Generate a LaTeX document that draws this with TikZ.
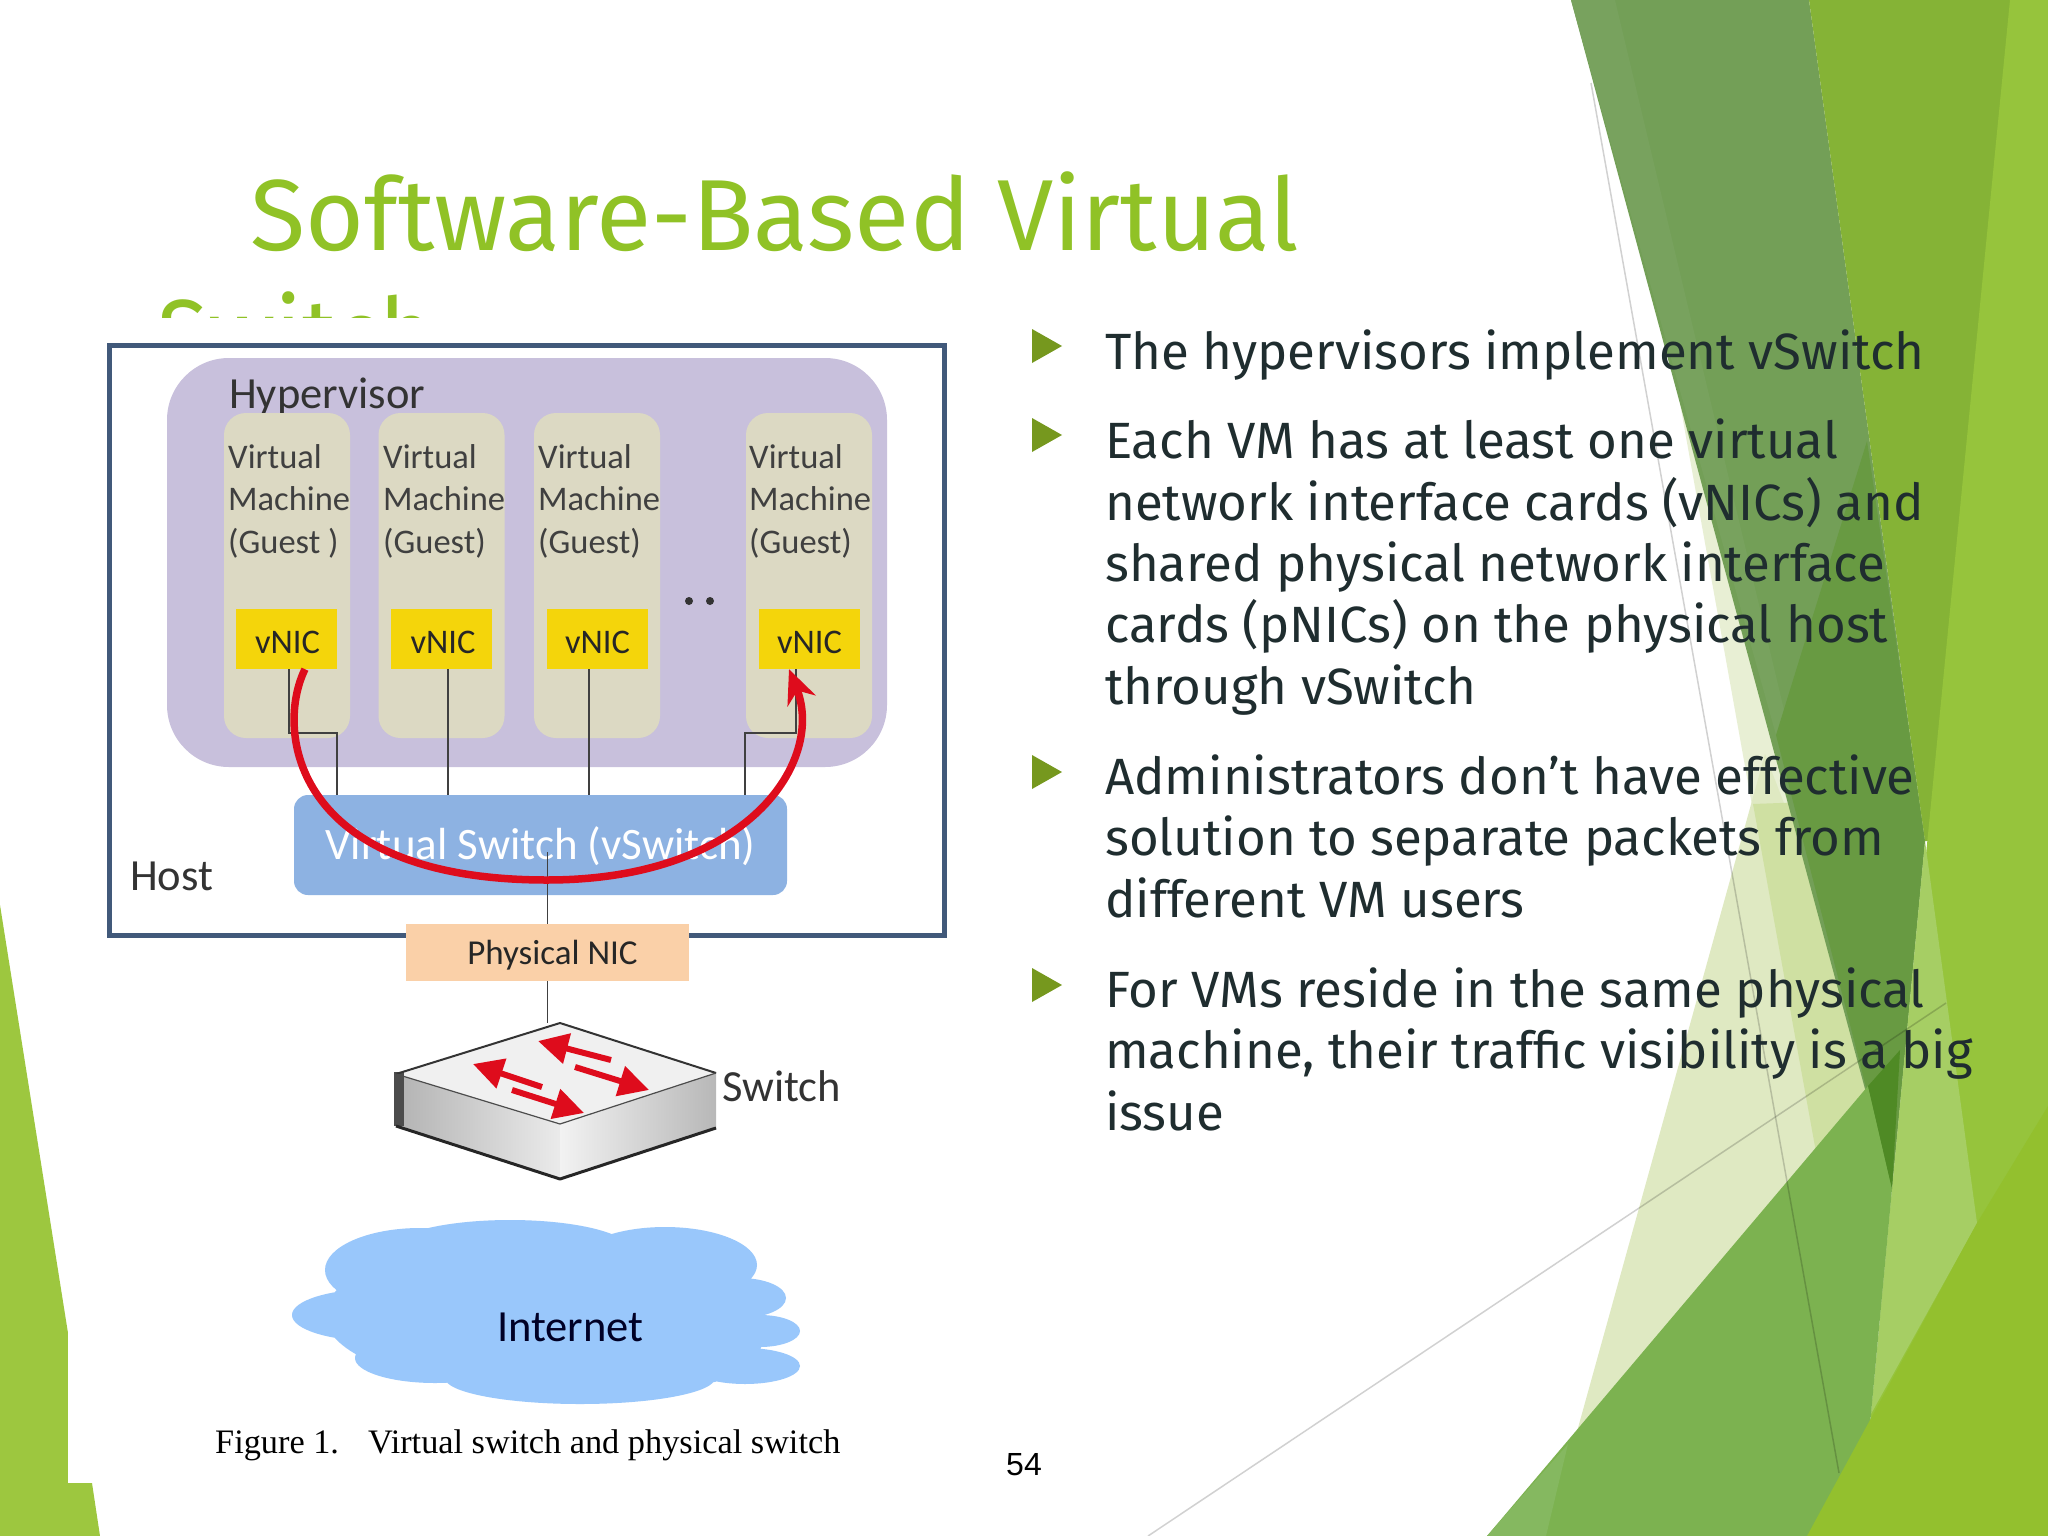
\documentclass[tikz,border=0pt]{standalone}
\usepackage{fontspec}
\setmainfont{Fira Sans}
\newfontfamily\figfont{Carlito}
\newfontfamily\capfont{Liberation Serif}
\newfontfamily\numfont{Liberation Sans}
\usetikzlibrary{arrows.meta}
\definecolor{titlegreen}{HTML}{90C226}
\definecolor{bodyink}{HTML}{1F2D2F}
\definecolor{bulletgreen}{HTML}{76981E}
\definecolor{hostblue}{HTML}{41597A}
\definecolor{hypcol}{HTML}{C8C0DC}
\definecolor{vmcol}{HTML}{DCD9C3}
\definecolor{niccol}{HTML}{F4D50B}
\definecolor{swcol}{HTML}{8DB2E2}
\definecolor{phycol}{HTML}{FAD0A8}
\definecolor{cloudcol}{HTML}{99C7FB}
\definecolor{redcol}{HTML}{DE0C1C}
\definecolor{pale}{HTML}{DFE9C2}
\definecolor{palelight}{HTML}{E8EFD4}
\definecolor{palemid}{HTML}{CFE0A2}
\definecolor{darkgreen}{HTML}{739F57}
\definecolor{darkedge}{HTML}{78A25E}
\definecolor{darklow}{HTML}{689A42}
\definecolor{darktip}{HTML}{4F8A25}
\definecolor{wedgegreen}{HTML}{85B336}
\definecolor{bandgreen}{HTML}{96C43C}
\definecolor{tipgreen}{HTML}{A6CE64}
\definecolor{midgreen}{HTML}{7CB250}
\definecolor{midlight}{HTML}{85B860}
\definecolor{brightgreen}{HTML}{93C02E}
\definecolor{leftgreen}{HTML}{9DC73F}
\tikzset{
 x=1pt,y=-1pt,
 vmbox/.style={draw=none,fill=vmcol,rounded corners=22pt,inner sep=0,minimum width=126pt,minimum height=325pt},
 nicbox/.style={draw=none,fill=niccol,inner sep=0,minimum width=101pt,minimum height=60pt,font=\figfont\fontsize{34.5}{36}\selectfont,text=black!85},
 vmtext/.style={anchor=base west,inner sep=0,align=left,font=\figfont\fontsize{34.5}{42.5}\selectfont,text=black!75},
 figlabel/.style={anchor=base west,inner sep=0,font=\figfont\fontsize{44.5}{48}\selectfont,text=black!80},
 wire/.style={draw=black!75,line width=1.6pt},
 bodytext/.style={anchor=base west,inner sep=0,align=left,text=bodyink,font=\fontsize{51}{61.3}\selectfont},
 titletext/.style={anchor=base west,inner sep=0,text=titlegreen,font=\fontsize{101}{118}\selectfont},
 bulletmark/.style={fill=bulletgreen,draw=none},
 sharrow/.style={draw=redcol,line width=6pt,-{Triangle[length=30pt,width=30pt]}},
 thinline/.style={line width=1.5pt,draw=black,opacity=0.18},
}
\begin{document}
\begin{tikzpicture}
\useasboundingbox (0,0) rectangle (2048,1536);
\fill[white] (0,0) rectangle (2048,1536);
% background shapes, right side
\fill[palelight] (1674,370) -- (1760,850) -- (1860,850) -- (1850,500) -- cycle;
\fill[pale] (1765,754) -- (1548,1536) -- (1800,1536) -- (1860,1000) -- cycle;
\fill[palemid] (1753,804) -- (1850,1340) -- (1900,1300) -- (1860,800) -- cycle;
\fill[darkgreen] (1571,0) -- (1809,0) -- (1912,749) -- (1925,841) -- (1892,1189) -- cycle;
\fill[darkedge] (1571,0) -- (1615,0) -- (1790,735) -- (1776,735) -- cycle;
\fill[darklow] (1776,735) -- (1867,441) -- (1925,841) -- (1892,1189) -- cycle;
\fill[wedgegreen] (1809,0) -- (2030,0) -- (1950,841) -- (1925,841) -- (1912,749) -- cycle;
\fill[bandgreen] (2010,0) -- (2048,0) -- (2048,1536) -- (1859,1536) -- cycle;
\fill[tipgreen] (1925,841) -- (1977,1223) -- (1871,1414) -- (1892,1189) -- cycle;
\fill[midgreen] (1487,1536) -- (1868,1086) -- (1892,1189) -- (1871,1414) -- (1859,1536) -- cycle;
\fill[midlight] (1487,1536) -- (1568,1444) -- (1546,1536) -- cycle;
\fill[darktip] (1868,1086) -- (1900,1050) -- (1892,1189) -- cycle;
\fill[brightgreen] (1807,1536) -- (1977,1223) -- (2048,1106) -- (2048,1536) -- cycle;
\draw[thinline] (1148,1536) -- (1946,1003);
\draw[thinline] (1591,83) -- (1839,1473);
% left side
\fill[leftgreen] (0,905) -- (68,1333) -- (68,1483) -- (92,1483) -- (100,1536) -- (0,1536) -- cycle;
% title
\node[titletext] (titleA) at (250,250) {Software-Based Virtual};
\node[titletext] (titleB) at (157,370) {\scalebox{0.93}[1]{Switch}};
\fill[white] (68,318) rectangle (1000,1483);
% bullets
\foreach \cy in {346,435,772,985} \fill[bulletmark] (1032,\cy-17) -- (1062,\cy) -- (1032,\cy+17) -- cycle;
\node[bodytext] (itemA) at (1105,369) {The hypervisors implement vSwitch};
\node[bodytext] (itemB) at (1105,704) {Each VM has at least one virtual\\network interface cards (vNICs) and\\shared physical network interface\\cards (pNICs) on the physical host\\through vSwitch};
\node[bodytext] (itemC) at (1105,917) {Administrators don’t have effective\\solution to separate packets from\\different VM users};
\node[bodytext] (itemD) at (1105,1130) {For VMs reside in the same physical\\machine, their traffic visibility is a big\\issue};
% diagram
\draw[hostblue,line width=5pt] (109,345) rectangle (944,935);
\node[fill=hypcol,rounded corners=62pt,minimum width=720pt,minimum height=409pt,inner sep=0] (hyp) at (527,562.5) {};
\node[figlabel] (hyplabel) at (229,408) {Hypervisor};
\node[figlabel] (hostlabel) at (130,890) {Host};
\node[vmbox] (vmA) at (287,575.5) {};
\node[vmbox] (vmB) at (441.5,575.5) {};
\node[vmbox] (vmC) at (597,575.5) {};
\node[vmbox] (vmD) at (809,575.5) {};
\node[vmtext] (tA) at (228,553) {Virtual\\Machine\\(Guest )};
\node[vmtext] (tB) at (383,553) {Virtual\\Machine\\(Guest)};
\node[vmtext] (tC) at (538,553) {Virtual\\Machine\\(Guest)};
\node[vmtext] (tD) at (749,553) {Virtual\\Machine\\(Guest)};
\node[nicbox] (nicA) at (286,639) {\raisebox{-14pt}[20pt][20pt]{\hspace*{3pt}vNIC}};
\node[nicbox] (nicB) at (441.5,639) {\raisebox{-14pt}[20pt][20pt]{\hspace*{3pt}vNIC}};
\node[nicbox] (nicC) at (597,639) {\raisebox{-14pt}[20pt][20pt]{\hspace*{1pt}vNIC}};
\node[nicbox] (nicD) at (809,639) {\raisebox{-14pt}[20pt][20pt]{\hspace*{1pt}vNIC}};
\fill[black!80] (689,601) circle (4) (710,601) circle (4);
\node[fill=swcol,rounded corners=14pt,minimum width=493pt,minimum height=100pt,inner sep=0,text=white,font=\figfont\fontsize{45}{48}\selectfont] (vsw) at (540.5,845) {\raisebox{-14pt}[30pt][30pt]{Virtual Switch (vSwitch)}};
\draw[wire] ([xshift=3pt]nicA.south) -- ++(0,64) -| ([xshift=-203.5pt]vsw.north);
\draw[wire] ([xshift=6.5pt]nicB.south) -- ([xshift=-92.5pt]vsw.north);
\draw[wire] ([xshift=-8pt]nicC.south) -- ([xshift=48.5pt]vsw.north);
\draw[wire] ([xshift=-13pt]nicD.south) -- ++(0,64) -| ([xshift=204.5pt]vsw.north);
\node[fill=phycol,minimum width=283pt,minimum height=57pt,inner sep=0,font=\figfont\fontsize{35}{37}\selectfont,text=black!85] (phy) at (547.5,952.5) {\raisebox{-12pt}[20pt][20pt]{\hspace*{10pt}Physical NIC}};
\draw[wire] ([xshift=7pt,yshift=-7pt]vsw.center) -- (phy.north);
\coordinate (swtop) at (560,1023);
\draw[wire] (phy.south) -- (swtop -| phy.south);
% red arc
\draw[redcol,line width=7.5pt,-{Stealth[length=34pt,width=30pt]}] ([xshift=19pt]nicA.south) .. controls (275,730) and (292,880) .. (547,880) .. controls (750,880) and (825,760) .. ([xshift=-20pt]nicD.south);
% switch
\shade[left color=black!30,right color=black!8] (396,1074) -- (560,1124) -- (560,1179) -- (396,1126) -- cycle;
\fill[black!6] (396,1074) -- (560,1024) -- (716,1073) -- (560,1124) -- cycle;
\shade[left color=black!5,right color=black!28] (560,1124) -- (716,1073) -- (716,1128) -- (560,1179) -- cycle;
\fill[black!70] (394,1072) rectangle (404,1126);
\draw[black!80,line width=2pt,line join=round] (396,1074) -- (560,1023) -- (716,1073);
\draw[black!70,line width=1.2pt] (396,1074) -- (560,1124) -- (716,1073);
\draw[black!85,line width=3pt,line join=round] (396,1126) -- (560,1179) -- (716,1128);
\draw[sharrow] (611,1060) -- (538,1041);
\draw[sharrow] (542,1087) -- (473,1064);
\draw[sharrow] (575,1067) -- (649,1090);
\draw[sharrow] (512,1090) -- (584,1113);
\node[figlabel] (swlabel) at (722,1101) {Switch};
% cloud
\fill[cloudcol] (505,1315) ellipse (180 and 70)
 (690,1330) ellipse (75 and 55)
 (420,1270) ellipse (95 and 42)
 (510,1250) ellipse (120 and 30)
 (665,1265) ellipse (92 and 38)
 (375,1315) ellipse (83 and 26)
 (740,1298) ellipse (46 and 20)
 (760,1331) ellipse (40 and 16)
 (745,1366) ellipse (55 and 18)
 (435,1358) ellipse (80 and 25)
 (580,1378) ellipse (135 and 26);
\node[figlabel,text=black!85!blue] (inet) at (497,1341) {Internet};
\node[anchor=base west,inner sep=0,font=\capfont\fontsize{34.3}{36}\selectfont] (cap) at (215,1453) {Figure 1.\hspace{29pt}Virtual switch and physical switch};
\node[inner sep=0,font=\numfont\fontsize{32}{34}\selectfont] (pagenum) at (1024,1465) {54};
\end{tikzpicture}
\end{document}
